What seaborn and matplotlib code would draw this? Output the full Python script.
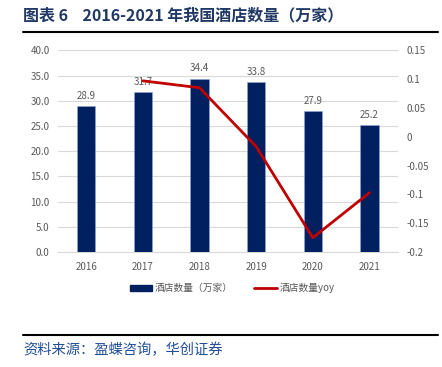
import matplotlib
matplotlib.use("Agg")
import matplotlib.pyplot as plt
import seaborn as sns
import numpy as np
import pandas as pd
from matplotlib.lines import Line2D
from matplotlib.patches import Patch

# data
years = ["2016", "2017", "2018", "2019", "2020", "2021"]
hotels = [28.9, 31.7, 34.4, 33.8, 27.9, 25.2]          # 万家
yoy_years = ["2017", "2018", "2019", "2020", "2021"]
yoy = [0.097, 0.085, -0.017, -0.175, -0.097]

left_ticks = [0, 5, 10, 15, 20, 25, 30, 35, 40]
right_ticks = [-0.2, -0.15, -0.1, -0.05, 0, 0.05, 0.1, 0.15]
right_labels = ["-0.2", "-0.15", "-0.1", "-0.05", "0", "0.05", "0.1", "0.15"]

sns.set_style("white")
plt.rcParams["font.family"] = ["Noto Sans CJK SC", "DejaVu Sans"]

BAR = "#002060"
LINE = "#C00000"
TICK = "#595959"

fig = plt.figure(figsize=(4.42, 3.67), dpi=100)
ax = fig.add_axes([0.131, 0.313, 0.769, 0.55])

df = pd.DataFrame({"year": years, "hotels": hotels})
sns.barplot(data=df, x="year", y="hotels", color=BAR, width=0.32,
            saturation=1, ax=ax, zorder=3)
for p in ax.patches:
    p.set_edgecolor("#8EA9DB")
    p.set_linewidth(0.4)

for i, v in enumerate(hotels):
    ax.text(i, v + 1.0, f"{v:.1f}", ha="center", va="bottom",
            fontsize=7, color=TICK)

ax.set_ylim(0, 40)
ax.set_yticks(left_ticks)
ax.set_yticklabels([f"{t:.1f}" for t in left_ticks])
ax.yaxis.grid(True, color="#D9D9D9", linewidth=0.8, zorder=0)
ax.set_xlabel("")
ax.set_ylabel("")
ax.tick_params(axis="y", length=0, labelsize=7, labelcolor=TICK, pad=6)
ax.tick_params(axis="x", length=0, labelsize=7, labelcolor=TICK, pad=7)
ax.set_xlim(-0.5, 5.5)
for s in ax.spines.values():
    s.set_visible(False)
ax.spines["bottom"].set_visible(True)
ax.spines["bottom"].set_color("#D9D9D9")

ax2 = ax.twinx()
pos = [years.index(y) for y in yoy_years]
sns.lineplot(x=pos, y=yoy, color=LINE, linewidth=2, ax=ax2, zorder=4)
ax2.set_ylim(-0.2, 0.15)
ax2.set_yticks(right_ticks)
ax2.set_yticklabels(right_labels)
ax2.tick_params(axis="y", length=0, labelsize=7, labelcolor=TICK, pad=6)
for s in ax2.spines.values():
    s.set_visible(False)

handles = [Patch(facecolor=BAR, edgecolor=BAR),
           Line2D([0], [0], color=LINE, linewidth=2)]
fig.legend(handles, ["酒店数量（万家）", "酒店数量yoy"], loc="center",
           bbox_to_anchor=(0.525, 0.215), ncol=2, frameon=False,
           fontsize=7, labelcolor=TICK, handlelength=2.3, handleheight=0.5,
           columnspacing=2.2, handletextpad=0.3)

fig.text(0.052, 0.958, "图表 6    2016-2021 年我国酒店数量（万家）",
         fontsize=11.5, fontweight="bold", color="#1F3864", va="center")
fig.add_artist(Line2D([0.052, 0.99], [0.912, 0.912], color="black",
                      linewidth=1.5))
fig.add_artist(Line2D([0.052, 0.99], [0.087, 0.087], color="black",
                      linewidth=1.5))
fig.text(0.052, 0.046, "资料来源：盈蝶咨询，华创证券", fontsize=10.3,
         color="#1F4E9A", style="italic", va="center")

fig.savefig("out.png", dpi=100)
